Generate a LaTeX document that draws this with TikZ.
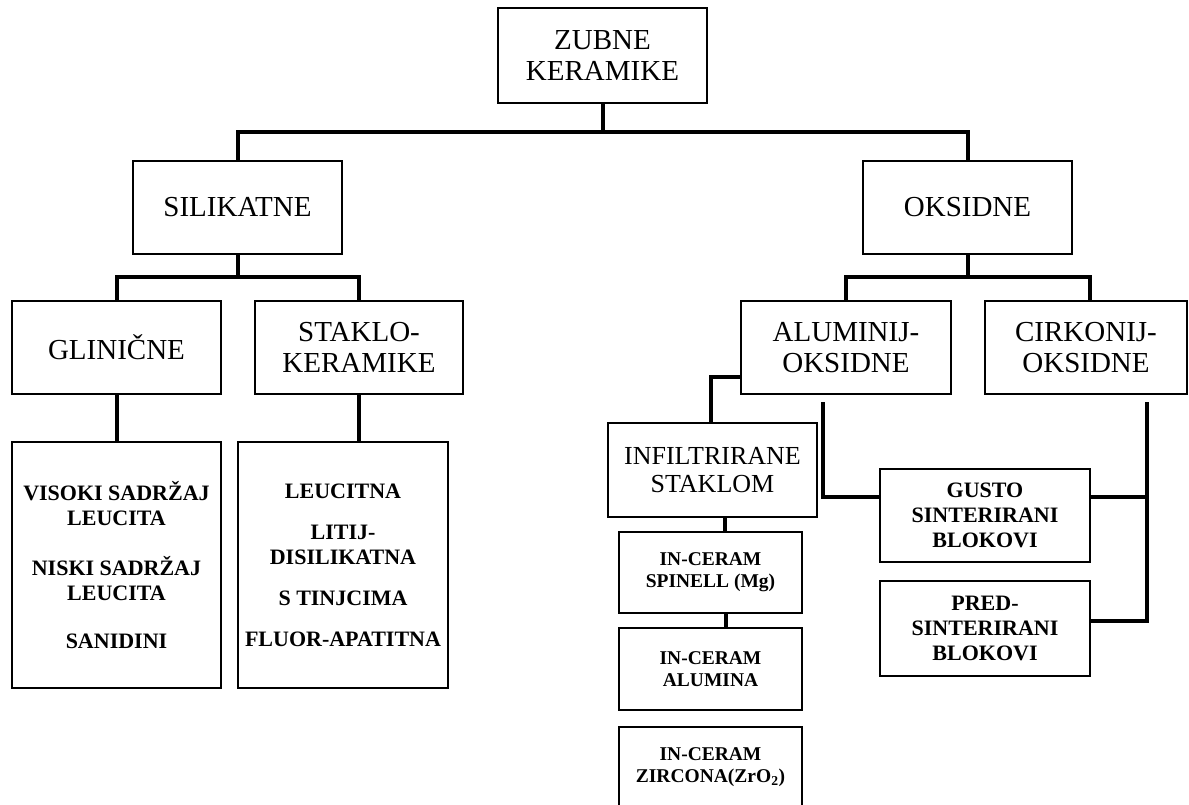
\documentclass[tikz,border=0pt]{standalone}
\usepackage{fontspec}
\setmainfont{Liberation Serif}
\begin{document}
\begin{tikzpicture}[x=1pt,y=-1pt,
  bx/.style={draw,line width=1.6pt,inner sep=0pt,align=center},
  big/.style={font=\fontsize{29}{31}\selectfont},
  med/.style={font=\fontsize{26}{28}\selectfont},
  lst/.style={font=\fontsize{22}{25}\selectfont\bfseries},
  sml/.style={font=\fontsize{19.5}{22}\selectfont\bfseries},
  conn/.style={line width=4pt}]
\useasboundingbox (0,0) rectangle (1189,805);
% boxes
\node[bx,big,minimum width=209,minimum height=95] (top) at (602.5,55.5) {ZUBNE\\KERAMIKE};
\node[bx,big,minimum width=209,minimum height=93] (sil) at (237.5,207.5) {SILIKATNE};
\node[bx,big,minimum width=209,minimum height=93] (oks) at (967.5,207.5) {OKSIDNE};
\node[bx,big,minimum width=209,minimum height=93] (glin) at (116.5,347.5) {GLINIČNE};
\node[bx,big,minimum width=208,minimum height=93] (stak) at (359,347.5) {STAKLO-\\KERAMIKE};
\node[bx,lst,minimum width=209,minimum height=246] (glist) at (116.5,565)
  {VISOKI SADRŽAJ\\LEUCITA\\[25pt]NISKI SADRŽAJ\\LEUCITA\\[23pt]SANIDINI};
\node[bx,lst,minimum width=210,minimum height=246] (slist) at (343,565)
  {LEUCITNA\\[16pt]LITIJ-\\DISILIKATNA\\[16pt]S TINJCIMA\\[16pt]FLUOR-APATITNA};
\node[bx,big,minimum width=210,minimum height=93] (alu) at (846,347.5) {ALUMINIJ-\\OKSIDNE};
\node[bx,big,minimum width=202,minimum height=93] (cirk) at (1086,347.5) {CIRKONIJ-\\OKSIDNE};
\node[bx,med,minimum width=209,minimum height=94] (infil) at (712.5,470) {INFILTRIRANE\\STAKLOM};
\node[bx,sml,minimum width=183,minimum height=81] (spin) at (710.5,572.5) {IN-CERAM\\SPINELL (Mg)};
\node[bx,sml,minimum width=183,minimum height=82] (alum) at (710.5,669) {IN-CERAM\\ALUMINA};
\node[bx,sml,minimum width=183,minimum height=81] (zirc) at (710.5,767.5) {IN-CERAM\\ZIRCONA(ZrO\textsubscript{2})};
\node[bx,lst,minimum width=210,minimum height=93] (gusto) at (985,515.5) {GUSTO\\SINTERIRANI\\BLOKOVI};
\node[bx,lst,minimum width=210,minimum height=95] (pred) at (985,628.5) {PRED-\\SINTERIRANI\\BLOKOVI};
% connectors
\coordinate (a1) at (823,402);
\coordinate (c1) at (1147,402);
\draw[conn] (top.south) -- ++(0,30);
\draw[conn] (sil.north) -- ++(0,-28) -| (oks.north);
\draw[conn] (sil.south) -- ++(0,24);
\draw[conn] (glin.north) -- ++(0,-23) -| (stak.north);
\draw[conn] (glin.south) -- (glist.north);
\draw[conn] (stak.south) -- (stak.south |- slist.north);
\draw[conn] (oks.south) -- ++(0,24);
\draw[conn] (alu.north) -- ++(0,-23) -| ([xshift=4pt]cirk.north);
\draw[conn] ([yshift=-29.5pt]alu.west) -| ([xshift=-1.5pt]infil.north);
\draw[conn] ([xshift=14.5pt]spin.north) -- ([xshift=14.5pt]spin.north |- infil.south);
\draw[conn] ([xshift=15.5pt]alum.north) -- ([xshift=15.5pt]alum.north |- spin.south);
\draw[conn] (a1) |- ([yshift=18.5pt]gusto.west);
\draw[conn] (c1) |- ([yshift=7.5pt]pred.east);
\draw[conn] ([yshift=18.5pt]gusto.east) -- ([yshift=18.5pt]gusto.east -| c1);
\end{tikzpicture}
\end{document}
